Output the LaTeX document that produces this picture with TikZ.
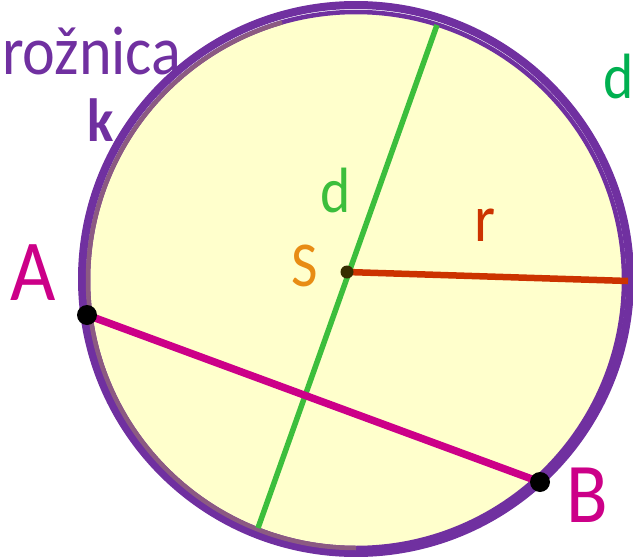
\documentclass[tikz,border=0pt]{standalone}
\usepackage{fontspec}
\usepackage{graphicx}
\setmainfont{Carlito}
\definecolor{kpurple}{RGB}{112,48,160}
\definecolor{kmauve}{RGB}{140,90,130}
\definecolor{kyellow}{RGB}{255,255,204}
\definecolor{kgreen}{RGB}{60,190,60}
\definecolor{kgreendark}{RGB}{0,176,80}
\definecolor{kmagenta}{RGB}{204,0,136}
\definecolor{kred}{RGB}{204,51,0}
\definecolor{korange}{RGB}{232,140,20}
\definecolor{kdot}{RGB}{55,45,0}
\newcommand\mylab[3][]{\scalebox{0.9}[1]{\fontsize{#2}{#2}\selectfont#1#3}}
\begin{document}
\begin{tikzpicture}[x=1pt,y=-1pt,
  lbl/.style={inner sep=0pt, outer sep=0pt, anchor=base west},
  ptdot/.style={circle, fill=black, inner sep=0pt, minimum size=20pt},
  seg/.style={line cap=butt}]
\useasboundingbox (0,0) rectangle (633,557);
% circles
\draw[kpurple, line width=8pt] (356,279) circle[radius=274];
\draw[kpurple, fill=kyellow, line width=4.5pt] (356,280) circle[radius=268];
\draw[kmauve, line width=4.5pt] (356,280) ++(90:268) arc[start angle=90, end angle=254, radius=268];
% key points
\coordinate (S) at (347,272);
\coordinate (D1) at (437,25);
\coordinate (D2) at (258,528);
\coordinate (R) at (628,281);
\coordinate (A) at (87,315);
\coordinate (B) at (540,482);
% segments
\draw[seg, kgreen, line width=5.5pt] (D1) -- (D2);
\draw[seg, kred, line width=6.5pt] (S) -- (R);
\draw[seg, kmagenta, line width=7.5pt] (A) -- (B);
\node[circle, fill=kdot, inner sep=0pt, minimum size=13pt] (Sdot) at (S) {};
\node[ptdot] (Adot) at (A) {};
\node[ptdot] (Bdot) at (B) {};
% labels
\node[lbl, text=kpurple] (tk) at (2,74) {\mylab{69}{rožnica}};
\node[lbl, text=kpurple] (tkk) at (87,141) {\mylab[\bfseries]{61}{k}};
\node[lbl, text=kmagenta] (tA) at (10,300) {\mylab{87}{A}};
\node[lbl, text=kmagenta] (tB) at (566,522) {\mylab{85}{B}};
\node[lbl, text=korange] (tS) at (291,286) {\mylab{64}{S}};
\node[lbl, text=kgreen] (td) at (320,212) {\mylab{64}{d}};
\node[lbl, text=kred] (tr) at (474,241) {\mylab{67}{r}};
\node[lbl, text=kgreendark] (td2) at (603,98) {\mylab{64}{d}};
\end{tikzpicture}
\end{document}
